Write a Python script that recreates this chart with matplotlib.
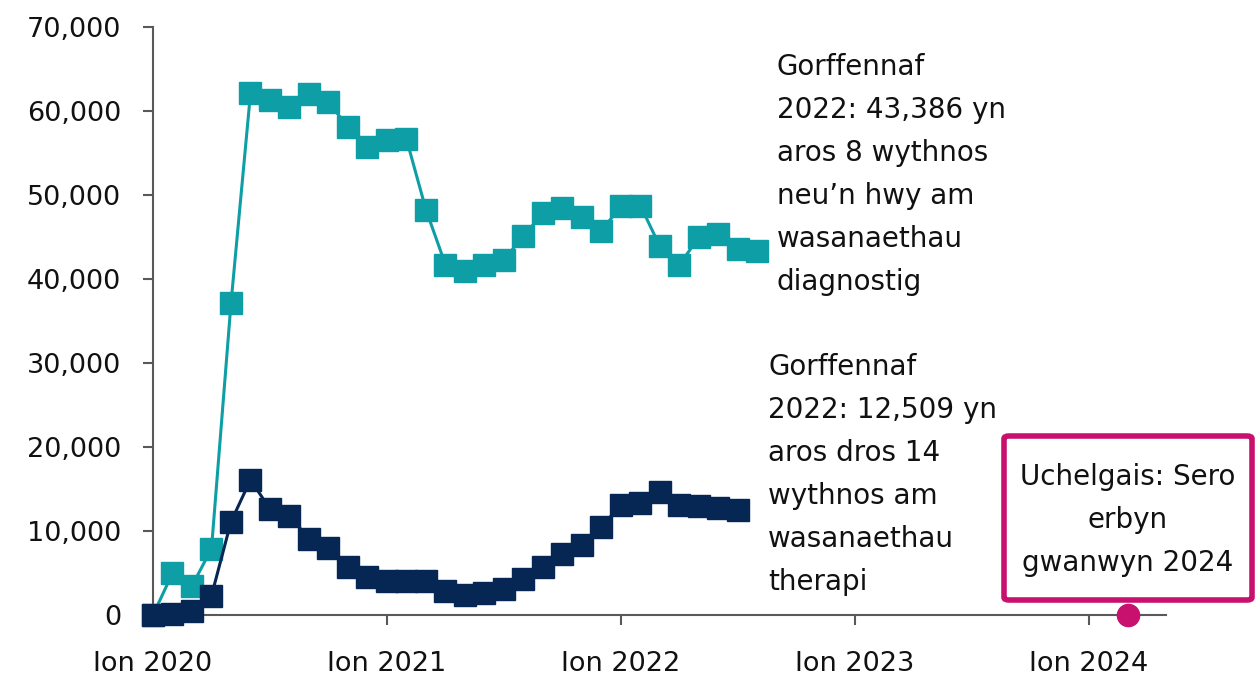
import matplotlib
matplotlib.use('Agg')
import matplotlib.pyplot as plt
from matplotlib.patches import FancyBboxPatch
from matplotlib.ticker import FuncFormatter

# months counted from Ion (Jan) 2020
diag_months = list(range(32))
diag_values = [0, 4980, 3470, 7900, 37120, 62120, 61330, 60450, 62050, 61050, 58070, 55690,
               56520, 56640, 48240, 41690, 40980, 41690, 42290, 45140, 47830, 48480, 47360, 45730,
               48710, 48710, 43870, 41690, 45020, 45380, 43600, 43386]

ther_months = list(range(31))
ther_values = [0, 100, 500, 2300, 11100, 16100, 12600, 11800, 9070, 7950, 5700, 4550,
               4070, 4100, 4070, 2880, 2400, 2640, 3120, 4300, 5740, 7290, 8360, 10500,
               13120, 13360, 14670, 13120, 13000, 12760, 12509]

target_month = 50  # gwanwyn 2024
target_value = 0

tick_months = [0, 12, 24, 36, 48]
tick_labels = ['Ion 2020', 'Ion 2021', 'Ion 2022', 'Ion 2023', 'Ion 2024']

diag_label = 'Gorffennaf\n2022: 43,386 yn\naros 8 wythnos\nneu\u2019n hwy am\nwasanaethau\ndiagnostig'
ther_label = 'Gorffennaf\n2022: 12,509 yn\naros dros 14\nwythnos am\nwasanaethau\ntherapi'
target_label = 'Uchelgais: Sero\nerbyn\ngwanwyn 2024'

teal = '#0E9EA5'
navy = '#062654'
magenta = '#C8106E'
axis_grey = '#595959'

plt.rcParams['font.family'] = ['DejaVu Sans']

fig = plt.figure(figsize=(12.6, 6.79), dpi=100, facecolor='white')
ax = fig.add_axes([153/1260, 1 - 615/679, (1166 - 153)/1260, (615 - 27)/679])

ax.plot(diag_months, diag_values, color=teal, linewidth=2.2, marker='s',
        markersize=15.5, clip_on=False, zorder=3)
ax.plot(ther_months, ther_values, color=navy, linewidth=2.2, marker='s',
        markersize=15.5, clip_on=False, zorder=4)
ax.plot([target_month], [target_value], marker='o', color=magenta,
        markersize=16, clip_on=False, zorder=5, linestyle='none')

ax.set_xlim(0, 51.95)
ax.set_ylim(0, 70000)
ax.set_xticks(tick_months)
ax.set_xticklabels(tick_labels)
ax.set_yticks(range(0, 70001, 10000))
ax.yaxis.set_major_formatter(FuncFormatter(lambda v, p: f'{int(v):,}'))

for side in ['top', 'right']:
    ax.spines[side].set_visible(False)
for side in ['left', 'bottom']:
    ax.spines[side].set_color(axis_grey)
    ax.spines[side].set_linewidth(1.5)
ax.tick_params(axis='both', colors=axis_grey, length=7, width=1.5,
               labelsize=19.5, labelcolor='#111111')
ax.tick_params(axis='x', pad=19)
ax.tick_params(axis='y', pad=16)

ax.text(777/1260, 1 - 53/679, diag_label, transform=fig.transFigure,
        fontsize=20, color='#111111', va='top', ha='left', linespacing=1.68)
ax.text(768/1260, 1 - 353/679, ther_label, transform=fig.transFigure,
        fontsize=20, color='#111111', va='top', ha='left', linespacing=1.68)

box = FancyBboxPatch((1004/1260, 1 - 600/679), (1252 - 1004)/1260, (600 - 436)/679,
                     boxstyle='round,pad=0,rounding_size=0.004', transform=fig.transFigure,
                     facecolor='white', edgecolor=magenta, linewidth=4, zorder=6)
fig.patches.append(box)
fig.text(1128/1260, 1 - 520/679, target_label, fontsize=20, color='#111111',
         ha='center', va='center', linespacing=1.68, zorder=7)

plt.savefig('out.png', dpi=100, facecolor='white')
